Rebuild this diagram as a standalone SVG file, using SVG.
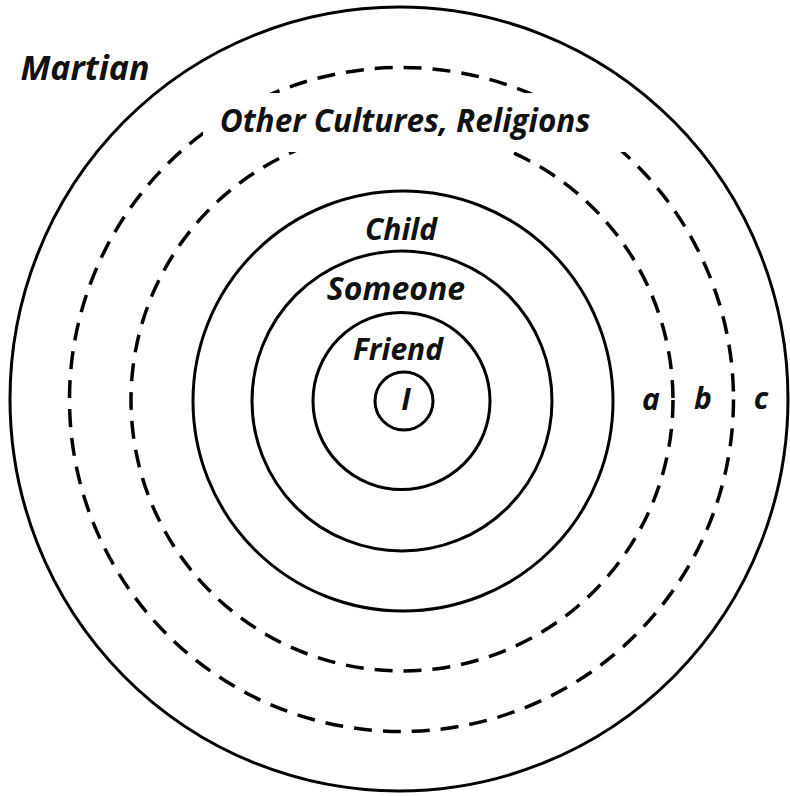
<svg xmlns="http://www.w3.org/2000/svg" width="790" height="796" viewBox="0 0 790 796">
<style>
.ring{fill:none;stroke:#000;stroke-width:3}
.dash{fill:none;stroke:#000;stroke-width:3.5;stroke-dasharray:18 11}
.lbl{font-family:"Open Sans","Liberation Sans",sans-serif;font-weight:bold;font-style:italic;font-size:30px;fill:#111;text-anchor:middle}
</style>
<rect width="790" height="796" fill="#fff"/>
<g id="martian">
<ellipse class="ring" cx="399" cy="399" rx="389" ry="392"/>
<text class="lbl" x="85" y="80" style="font-size:34px">Martian</text>
</g>
<g id="ring-c">
<circle class="dash" cx="401.5" cy="399.5" r="332"/>
</g>
<g id="ring-b">
<circle class="dash" cx="402" cy="400" r="271"/>
</g>
<rect x="203" y="93" width="425" height="59" fill="#fff"/>
<g id="other-cultures">
<text class="lbl" x="405" y="132" style="font-size:31.5px">Other Cultures, Religions</text>
</g>
<g id="ring-a">
<circle class="ring" cx="403" cy="401" r="210"/>
<text class="lbl" x="651" y="410">a</text>
<text class="lbl" x="703" y="409">b</text>
<text class="lbl" x="761" y="409">c</text>
</g>
<g id="child">
<circle class="ring" cx="402" cy="401" r="150"/>
<text class="lbl" x="401" y="240">Child</text>
</g>
<g id="someone">
<circle class="ring" cx="401.5" cy="401" r="88.5"/>
<text class="lbl" x="396" y="300" style="font-size:32px">Someone</text>
</g>
<g id="friend">
<text class="lbl" x="398" y="360">Friend</text>
</g>
<g id="i">
<circle class="ring" cx="404" cy="401" r="29"/>
<text class="lbl" x="406" y="410">I</text>
</g>
</svg>
